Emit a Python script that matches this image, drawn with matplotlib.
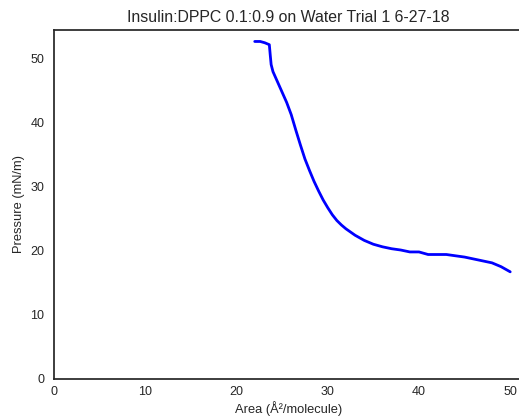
import numpy as np
import matplotlib
matplotlib.use('Agg')
import matplotlib.pyplot as plt
import seaborn as sns

# isotherm readings: trough area per molecule vs surface pressure
area = [22.0, 22.6, 23.1, 23.6, 23.7, 23.8, 24.0, 24.5, 25.0, 25.5,
        26.0, 26.5, 27.0, 27.5, 28.0, 28.5, 29.0, 29.5, 30.0, 30.5,
        31.0, 31.5, 32.0, 32.5, 33.0, 34.0, 35.0, 36.0, 37.0, 38.0,
        39.0, 40.0, 40.5, 41.0, 42.0, 43.0, 44.0, 45.0, 46.0, 47.0,
        48.0, 49.0, 49.5, 50.0]
pressure = [52.6, 52.6, 52.4, 52.1, 50.5, 49.0, 47.9, 46.3, 44.7, 43.1,
            41.2, 38.8, 36.5, 34.3, 32.5, 30.8, 29.3, 27.9, 26.7, 25.6,
            24.7, 24.0, 23.4, 22.9, 22.4, 21.6, 21.0, 20.6, 20.3, 20.1,
            19.8, 19.8, 19.6, 19.4, 19.4, 19.4, 19.2, 19.0, 18.7, 18.4,
            18.1, 17.5, 17.1, 16.7]

sns.set_style('white')
plt.rcParams['font.family'] = ['Liberation Sans', 'DejaVu Sans']

fig = plt.figure(figsize=(5.19, 4.19), dpi=100)
ax = fig.add_axes([0.104, 0.0955, 0.9037, 0.833])

ax.plot(area, pressure, color='blue', linewidth=2)

ax.set_xlim(0, None)
ax.set_ylim(0, None)
ax.set_xticks(np.arange(0, 51, 10))
ax.set_yticks(np.arange(0, 51, 10))
ax.tick_params(labelsize=9, colors='.15')
ax.tick_params(axis='x', pad=1.5)

ax.set_title('Insulin:DPPC 0.1:0.9 on Water Trial 1 6-27-18', fontsize=11.4, color='.15')
ax.set_xlabel('Area (Å²/molecule)', fontsize=9.3, color='.15', labelpad=2)
ax.set_ylabel('Pressure (mN/m)', fontsize=9.3, color='.15')

for s in ax.spines.values():
    s.set_color('.15')
    s.set_linewidth(1.25)

fig.savefig('out.png', dpi=100)
